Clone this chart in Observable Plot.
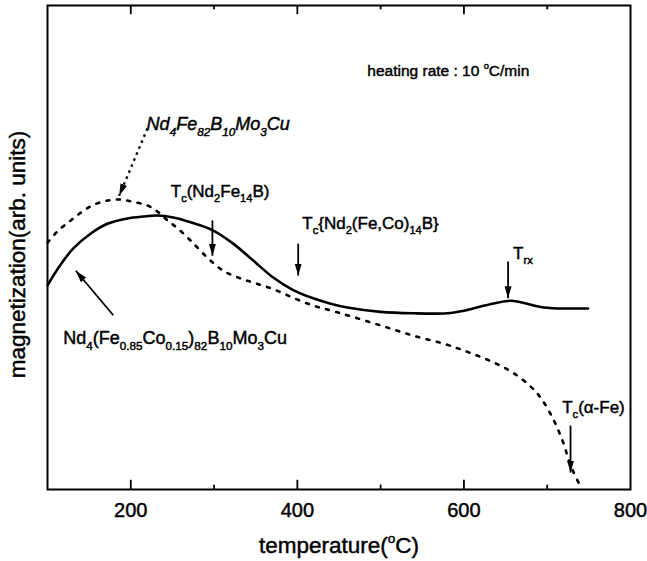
<!DOCTYPE html>
<html><head><meta charset="utf-8">
<script src="https://cdn.jsdelivr.net/npm/d3@7"></script>
<script src="https://cdn.jsdelivr.net/npm/@observablehq/plot@0.6"></script>
<style>body{margin:0;background:#fff} svg{display:block}</style>
</head><body><div id="chart"></div>
<script>
// Nd4(Fe0.85Co0.15)82B10Mo3Cu (solid)
const solidT = [100,115,131,152,172,196,215,232,251,272,299,323,347,371,395,419,440,460,500,539,580,599,620,640,656,668,692,712,730,749];
const solidM = [42.2,46.3,49.8,52.9,54.9,56.0,56.4,56.6,56.2,55.2,53.5,50.8,47.3,43.8,41.2,39.5,38.4,37.6,36.7,36.4,36.4,36.9,37.8,38.6,39.0,38.7,37.7,37.4,37.4,37.4];
// Nd4Fe82B10Mo3Cu (dotted)
const dashT = [100,113,128,140,155,172,188,203,220,233,244,256,272,292,311,332,350,371,395,419,440,460,500,539,580,600,620,640,660,680,692,707,719,728,740];
const dashM = [51.0,53.5,55.6,57.2,58.8,59.7,59.9,59.4,58.7,57.3,55.6,54.0,51.4,47.9,45.2,43.6,42.6,41.4,39.6,38.0,37.0,36.0,33.9,31.8,29.9,28.7,27.4,25.9,24.0,21.3,19.0,14.6,9.8,5.0,0.6];

const xTicks = [200,400,600,800];
const xMinor = [300,500,700];

// annotation texts
const noteText = ["heating rate : 10 ^{o}C/min", "T_{c}(Nd_{2}Fe_{14}B)", "T_{c}{Nd_{2}(Fe,Co)_{14}B}", "T_{rx}", "T_{c}(\u03B1-Fe)"];
const noteT = [484, 248, 406, 659, 718];
const noteM = [85.5, 60.5, 53.9, 47.7, 15.9];
const noteSize = [15.5, 17, 17, 17, 17];

const seriesText = ["Nd_{4}Fe_{82}B_{10}Mo_{3}Cu", "Nd_{4}(Fe_{0.85}Co_{0.15})_{82}B_{10}Mo_{3}Cu"];
const seriesT = [219, 119];
const seriesM = [74.2, 30.0];
const seriesItalic = [true, false];

// arrows
const arrowX1 = [298, 401, 653, 728, 220, 179];
const arrowY1 = [55.6, 50.8, 47.1, 13.2, 74.6, 36.0];
const arrowX2 = [298, 401, 653, 728, 186, 134];
const arrowY2 = [48.3, 44.2, 39.5, 3.5, 60.7, 45.2];
const arrowDash = [false, false, false, false, true, false];

const solid = solidT.map((t, i) => ({t, m: solidM[i]}));
const dashed = dashT.map((t, i) => ({t, m: dashM[i]}));
const notes = noteText.map((s, i) => ({s, t: noteT[i], m: noteM[i], fs: noteSize[i]}));
const series = seriesText.map((s, i) => ({s, t: seriesT[i], m: seriesM[i], it: seriesItalic[i]}));
const arrows = arrowX1.map((x, i) => ({x1: x, y1: arrowY1[i], x2: arrowX2[i], y2: arrowY2[i], d: arrowDash[i]}));

const font = "'Liberation Sans', Arial, sans-serif";

const plot = Plot.plot({
  width: 647, height: 561,
  marginLeft: 47, marginRight: 17, marginTop: 5, marginBottom: 72,
  style: {fontFamily: font, fontSize: "20px", color: "#000", background: "#fff", overflow: "visible"},
  x: {domain: [100, 800], ticks: xTicks, tickSize: 0, tickPadding: 13, label: null},
  y: {domain: [0, 100], axis: null},
  marks: [
    Plot.frame({stroke: "#000", strokeWidth: 2}),
    Plot.ruleX(xTicks.slice(0, 3), {y1: 0, y2: 1.9, stroke: "#000", strokeWidth: 1.8}),
    Plot.ruleX(xMinor, {y1: 0, y2: 0.9, stroke: "#000", strokeWidth: 1.8}),
    Plot.ruleX(xTicks.slice(0, 3), {y1: 100, y2: 98.1, stroke: "#000", strokeWidth: 1.8}),
    Plot.ruleX(xMinor, {y1: 100, y2: 99.1, stroke: "#000", strokeWidth: 1.8}),
    Plot.line(solid, {x: "t", y: "m", stroke: "#000", strokeWidth: 2.6, curve: "catmull-rom"}),
    Plot.line(dashed, {x: "t", y: "m", stroke: "#000", strokeWidth: 2.6, strokeDasharray: "3,7.5", curve: "catmull-rom"}),
    Plot.link(arrows.filter(d => !d.d), {x1: "x1", y1: "y1", x2: "x2", y2: "y2", stroke: "#000", strokeWidth: 1.8, markerEnd: "arrow"}),
    Plot.link(arrows.filter(d => d.d), {x1: "x1", y1: "y1", x2: "x2", y2: "y2", stroke: "#000", strokeWidth: 2.4, strokeDasharray: "2.5,4", markerEnd: "arrow"}),
    Plot.text(notes, {x: "t", y: "m", text: "s", textAnchor: "start", lineAnchor: "bottom", fontSize: "fs", fill: "#000"}),
    Plot.text(series.filter(d => d.it), {x: "t", y: "m", text: "s", textAnchor: "start", lineAnchor: "bottom", fontSize: 18, fontStyle: "italic", fill: "#000"}),
    Plot.text(series.filter(d => !d.it), {x: "t", y: "m", text: "s", textAnchor: "start", lineAnchor: "bottom", fontSize: 18, fill: "#000"}),
    Plot.text(["temperature(^{o}C)"], {frameAnchor: "bottom", textAnchor: "middle", lineAnchor: "middle", dy: 56, fontSize: 22.5, fill: "#000"}),
    Plot.text(["magnetization(arb. units)"], {frameAnchor: "left", textAnchor: "middle", lineAnchor: "middle", dx: -30, dy: 7, rotate: -90, fontSize: 22.5, fill: "#000"})
  ]
});

const svg = d3.select(plot);
// filled arrowheads on Plot's own markers
svg.selectAll("marker").each(function() {
  const mk = d3.select(this);
  mk.attr("viewBox", "-12 -4 12 8").attr("markerWidth", 12).attr("markerHeight", 8)
    .attr("markerUnits", "userSpaceOnUse").attr("refX", 0).attr("refY", 0).attr("orient", "auto")
    .attr("fill", "#000").attr("stroke", "none").attr("stroke-dasharray", null);
  mk.selectAll("*").remove();
  mk.append("path").attr("d", "M-12,-3.5L0,0L-12,3.5Z").attr("fill", "#000").attr("stroke", "none");
});

// sub/superscripts
svg.selectAll("text").each(function() {
  const el = this;
  const s = el.textContent;
  if (!/[_^]\{/.test(s)) return;
  const fs = parseFloat(el.getAttribute("font-size")) || parseFloat(el.parentNode.getAttribute("font-size")) || 18;
  while (el.firstChild) el.removeChild(el.firstChild);
  const re = /([_^])\{([^}]*)\}|([^_^]+)/g;
  let m, shift = 0;
  while ((m = re.exec(s))) {
    const t = document.createElementNS("http://www.w3.org/2000/svg", "tspan");
    let target = 0;
    if (m[1] === "_") { target = 0.3 * fs; t.setAttribute("font-size", (0.65 * fs) + "px"); t.textContent = m[2]; }
    else if (m[1] === "^") { target = -0.42 * fs; t.setAttribute("font-size", (0.6 * fs) + "px"); t.textContent = m[2]; }
    else { t.textContent = m[3]; }
    const dy = target - shift;
    if (dy !== 0) t.setAttribute("dy", dy);
    shift = target;
    el.appendChild(t);
  }
});
// slightly heavier text like the scanned original
svg.selectAll("text").attr("stroke", "#000").attr("stroke-width", 0.45).attr("paint-order", "stroke");

document.getElementById("chart").appendChild(plot);
</script>
</body></html>
